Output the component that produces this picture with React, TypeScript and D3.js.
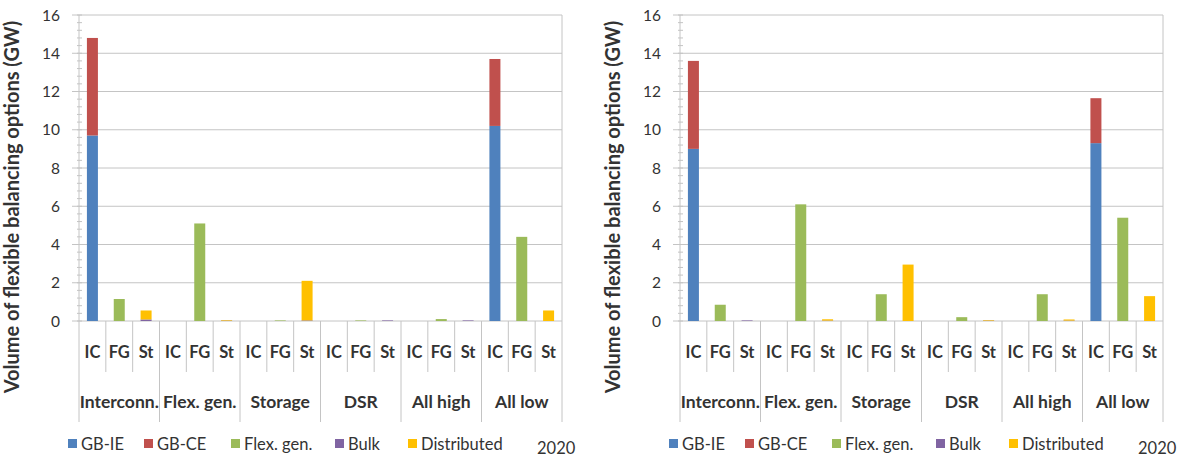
import React from "react";
import * as d3 from "d3";

// Category structure
const groups = ["Interconn.", "Flex. gen.", "Storage", "DSR", "All high", "All low"];
const subs = ["IC", "FG", "St"];
const seriesNames = ["GB-IE", "GB-CE", "Flex. gen.", "Bulk", "Distributed"];
const seriesColors = ["#4F81BD", "#C0504D", "#9BBB59", "#8064A2", "#FFC000"];
const yTicks = [0, 2, 4, 6, 8, 10, 12, 14, 16];
const yearLabel = "2020";

// Left panel (GW), one value per group × sub-category
const gbIE_A = [9.7, 0, 0, 0, 0, 0, 0, 0, 0, 0, 0, 0, 0, 0, 0, 10.2, 0, 0];
const gbCE_A = [5.1, 0, 0, 0, 0, 0, 0, 0, 0, 0, 0, 0, 0, 0, 0, 3.5, 0, 0];
const flex_A = [0, 1.15, 0, 0, 5.1, 0, 0, 0.03, 0, 0, 0.03, 0, 0, 0.1, 0, 0, 4.4, 0];
const bulk_A = [0, 0, 0.08, 0, 0, 0.02, 0, 0, 0.03, 0, 0, 0.03, 0, 0, 0.03, 0, 0, 0];
const dist_A = [0, 0, 0.47, 0, 0, 0.03, 0, 0, 2.07, 0, 0, 0, 0, 0, 0, 0, 0, 0.55];

// Right panel (GW)
const gbIE_B = [9.0, 0, 0, 0, 0, 0, 0, 0, 0, 0, 0, 0, 0, 0, 0, 9.3, 0, 0];
const gbCE_B = [4.6, 0, 0, 0, 0, 0, 0, 0, 0, 0, 0, 0, 0, 0, 0, 2.35, 0, 0];
const flex_B = [0, 0.85, 0, 0, 6.1, 0, 0, 1.4, 0, 0, 0.2, 0, 0, 1.4, 0, 0, 5.4, 0];
const bulk_B = [0, 0, 0.03, 0, 0, 0.02, 0, 0, 0, 0, 0, 0.02, 0, 0, 0.02, 0, 0, 0];
const dist_B = [0, 0, 0, 0, 0, 0.07, 0, 0, 2.95, 0, 0, 0.03, 0, 0, 0.06, 0, 0, 1.3];

const FONT = "Lato, 'Open Sans', sans-serif";
const TEXT = "#333333";
const GRID = "#C4C4C4";

type Row = Record<string, number>;

function buildRows(cols: number[][]): Row[] {
  const rows: Row[] = [];
  for (let i = 0; i < groups.length * subs.length; i++) {
    const r: Row = { idx: i };
    seriesNames.forEach((s, k) => (r[s] = cols[k][i]));
    rows.push(r);
  }
  return rows;
}

function Panel({ dx, cols }: { dx: number; cols: number[][] }) {
  const left = 79;
  const right = 562;
  const top = 15;
  const bottom = 321;
  const subBottom = 372;
  const grpBottom = 422;

  const n = groups.length * subs.length;
  const x = d3
    .scaleBand<number>()
    .domain(d3.range(n))
    .range([left, right])
    .paddingInner(0)
    .paddingOuter(0);
  const y = d3.scaleLinear().domain([0, 16]).range([bottom, top]);
  const bw = x.bandwidth() * 0.41;

  const rows = buildRows(cols);
  const stacked = d3.stack<Row>().keys(seriesNames)(rows);

  const minor = d3.range(0, 16.001, 0.4);

  // legend layout
  const legendX = [68, 144, 231, 335, 408];
  const legendY = 444;

  return (
    <g transform={`translate(${dx},0)`}>
      {/* gridlines with short outside ticks */}
      {yTicks.map((t) => (
        <line key={"g" + t} x1={left - 7} x2={right} y1={y(t)} y2={y(t)} stroke={GRID} strokeWidth={1} />
      ))}
      {/* minor ticks */}
      {minor.map((t, i) => (
        <line key={"m" + i} x1={left - 2} x2={left + 3} y1={y(t)} y2={y(t)} stroke={GRID} strokeWidth={1} />
      ))}
      {/* value axis line */}
      <line x1={left} x2={left} y1={top} y2={grpBottom} stroke={GRID} strokeWidth={1} />
      {/* right border */}
      <line x1={right} x2={right} y1={top} y2={grpBottom} stroke={GRID} strokeWidth={1} />
      {/* category separators */}
      {d3.range(1, n).map((i) => {
        const xx = x(i) as number;
        const isGroup = i % subs.length === 0;
        return (
          <line
            key={"s" + i}
            x1={xx}
            x2={xx}
            y1={bottom}
            y2={isGroup ? grpBottom : subBottom}
            stroke={GRID}
            strokeWidth={1}
          />
        );
      })}
      {/* y tick labels */}
      {yTicks.map((t) => (
        <text
          key={"yl" + t}
          x={left - 19}
          y={y(t)}
          dy="0.36em"
          textAnchor="end"
          fontSize={15.5}
          fontFamily={FONT}
          fill={TEXT}
        >
          {t}
        </text>
      ))}
      {/* bars */}
      {stacked.map((layer, k) => (
        <g key={"b" + k} fill={seriesColors[k]}>
          {layer.map((d, i) =>
            d[1] - d[0] > 0 ? (
              <rect
                key={i}
                x={(x(i) as number) + (x.bandwidth() - bw) / 2}
                width={bw}
                y={y(d[1])}
                height={y(d[0]) - y(d[1])}
              />
            ) : null
          )}
        </g>
      ))}
      {/* sub-category labels */}
      {d3.range(n).map((i) => (
        <text
          key={"sl" + i}
          x={(x(i) as number) + x.bandwidth() / 2}
          y={352.5}
          dy="0.36em"
          textAnchor="middle"
          fontSize={16.5}
          fontWeight="bold"
          fontFamily={FONT}
          fill={TEXT}
        >
          {subs[i % subs.length]}
        </text>
      ))}
      {/* group labels */}
      {groups.map((g, gi) => {
        const x0 = x(gi * subs.length) as number;
        const cx = x0 + (x.bandwidth() * subs.length) / 2;
        return (
          <text
            key={"gl" + gi}
            x={cx}
            y={401.5}
            dy="0.36em"
            textAnchor="middle"
            fontSize={17.5}
            fontWeight="bold"
            fontFamily={FONT}
            fill={TEXT}
          >
            {g}
          </text>
        );
      })}
      {/* value axis title */}
      <text
        transform={`translate(19,207) rotate(-90)`}
        textAnchor="middle"
        fontSize={20}
        fontWeight="bold"
        fontFamily={FONT}
        fill={TEXT}
      >
        Volume of flexible balancing options (GW)
      </text>
      {/* legend */}
      {seriesNames.map((s, k) => (
        <g key={"lg" + k}>
          <rect x={legendX[k]} y={legendY - 5} width={9} height={9} fill={seriesColors[k]} />
          <text
            x={legendX[k] + 13}
            y={legendY}
            dy="0.36em"
            fontSize={16.5}
            fontFamily={FONT}
            fill={TEXT}
          >
            {s}
          </text>
        </g>
      ))}
      <text x={537} y={448} dy="0.36em" fontSize={16.5} fontFamily={FONT} fill={TEXT}>
        {yearLabel}
      </text>
    </g>
  );
}

export default function App() {
  return (
    <svg
      width={1184}
      height={459}
      style={{ position: "absolute", left: 0, top: 0, background: "#fff" }}
    >
      <Panel dx={0} cols={[gbIE_A, gbCE_A, flex_A, bulk_A, dist_A]} />
      <Panel dx={601} cols={[gbIE_B, gbCE_B, flex_B, bulk_B, dist_B]} />
    </svg>
  );
}
